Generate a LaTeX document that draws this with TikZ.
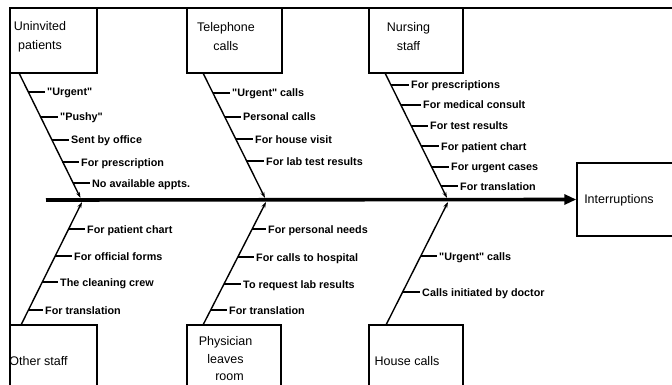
\documentclass[tikz,border=0pt]{standalone}
\usepackage{fontspec}
\setmainfont[Ligatures=TeXOff]{Liberation Sans}
\usetikzlibrary{arrows.meta}
\begin{document}
\begin{tikzpicture}[x=1pt,y=-1pt,
  frame/.style={line width=1.4pt},
  box/.style={draw,line width=1.4pt,rectangle,inner sep=0pt},
  boxtext/.style={align=center,inner sep=0pt,font=\fontsize{12.5}{19}\selectfont},
  bone/.style={line width=1.4pt,-{Stealth[length=6pt,width=4pt]}},
  spine/.style={line width=3.6pt,-{Triangle[length=12pt,width=10pt]}},
  rib/.style={line width=1.4pt},
  lab/.style={inner sep=0pt,anchor=base west,font=\fontsize{10.8}{13}\selectfont\bfseries}]
\useasboundingbox (0,0) rectangle (672,385);
\clip (0,0) rectangle (672,385);
\fill[white] (0,0) rectangle (672,385);
% frame
\coordinate (f0) at (10,8);
\coordinate (f1) at (680,8);
\coordinate (f2) at (10,395);
\draw[frame] (f1) -- (f0) -- (f2);
% boxes
\node[box,minimum width=87pt,minimum height=65pt] (ub) at (53.5,40.5) {};
\node[box,minimum width=95pt,minimum height=65pt] (tb) at (234.5,40.5) {};
\node[box,minimum width=94pt,minimum height=65pt] (nb) at (416,40.5) {};
\node[box,minimum width=87pt,minimum height=70pt] (ob) at (53.5,360) {};
\node[box,minimum width=94pt,minimum height=70pt] (pb) at (234,360) {};
\node[box,minimum width=94pt,minimum height=70pt] (hb) at (416,360) {};
\node[box,minimum width=113pt,minimum height=73pt] (ib) at (633.5,199.5) {};
% box texts
\node[boxtext] (ut) at (40,36.5) {Uninvited\\patients};
\node[boxtext] (tt) at (226,36.5) {Telephone\\calls};
\node[boxtext] (nt) at (408.5,36.5) {Nursing\\staff};
\node[boxtext] (ot) at (38.5,361) {Other staff};
\node[boxtext,font=\fontsize{12.5}{17.5}\selectfont] (pt) at (225.5,359) {Physician\\leaves\\\hspace*{8pt}room};
\node[boxtext] (ht) at (407,361) {House calls};
\node[boxtext] (it) at (619,200) {Interruptions};
% spine
\coordinate (s0) at (46,200);
\draw[spine] (s0) -- (ib.west);
% bones
\coordinate (ua) at (19,73);  \coordinate (uz) at (80.5,198);
\coordinate (ta) at (203,73); \coordinate (tz) at (265,198);
\coordinate (na) at (385,73); \coordinate (nz) at (447,198);
\coordinate (oa) at (21,325); \coordinate (oz) at (82,202);
\coordinate (pa) at (203,325); \coordinate (pz) at (266,202);
\coordinate (ha) at (386,325); \coordinate (hz) at (448,202);
\foreach \a/\b in {ua/uz,ta/tz,na/nz,oa/oz,pa/pz,ha/hz}
  \draw[bone] (\a) -- (\b);
% ribs and labels
\foreach \n/\bx/\tx/\y/\t in {
  u1/28.3/47/92/{"Urgent"},
  u2/40.5/60/117/{"Pushy"},
  u3/51.7/71/140/{Sent by office},
  u4/62.4/81/162/{For prescription},
  u5/72.7/92/183/{No available appts.},
  t1/212.9/232/93/{"Urgent" calls},
  t2/224.8/243/117/{Personal calls},
  t3/235.7/255/139/{For house visit},
  t4/246.6/266/161/{For lab test results},
  n1/391/411/85/{For prescriptions},
  n2/400.9/423/105/{For medical consult},
  n3/411.3/430/126/{For test results},
  n4/421.2/441/146/{For patient chart},
  n5/431.6/451/167/{For urgent cases},
  n6/441/460/186/{For translation},
  o1/68.6/87/229/{For patient chart},
  o2/55.2/74/256/{For official forms},
  o3/42.3/60/282/{The cleaning crew},
  o4/28.4/45/310/{For translation},
  p1/252.2/268/229/{For personal needs},
  p2/237.8/256/257/{For calls to hospital},
  p3/224/243/284/{To request lab results},
  p4/210.7/229/310/{For translation},
  h1/420.8/439/256/{"Urgent" calls},
  h2/402.6/422/292/{Calls initiated by doctor}}
{
  \node[lab] (\n) at (\tx,\y+4) {\t};
  \coordinate (\n b) at (\bx,\y);
  \draw[rib] (\n b) -- ([shift={(-2,-4)}]\n.base west);
}
\end{tikzpicture}
\end{document}
